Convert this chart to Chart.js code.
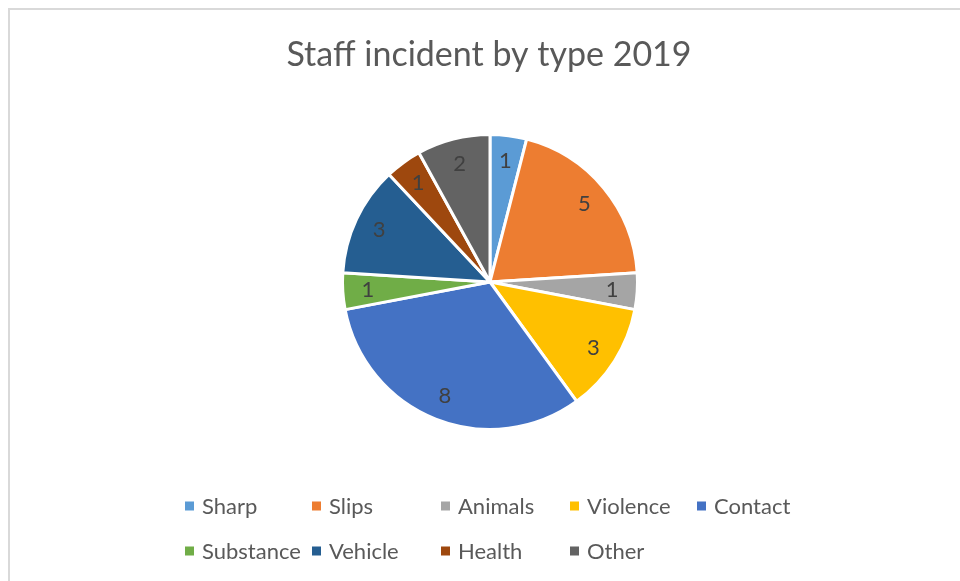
<!DOCTYPE html>
<html><head><meta charset="utf-8">
<script src="https://cdn.jsdelivr.net/npm/chart.js@4.4.0/dist/chart.umd.min.js"></script>
<style>
html,body{margin:0;padding:0;background:#fff;overflow:hidden}
#wrap{position:relative;width:960px;height:581px;overflow:hidden}
#frame{position:absolute;left:8px;top:8px;width:1000px;height:700px;border-left:2px solid #d9d9d9;border-top:2px solid #d9d9d9;}
canvas{position:absolute;left:0;top:0}
</style></head>
<body><div id="wrap"><div id="frame"></div><canvas id="c" width="960" height="581"></canvas></div>
<script>
const chartTitle = 'Staff incident by type 2019';
const categories = ['Sharp','Slips','Animals','Violence','Contact','Substance','Vehicle','Health','Other'];
const values = [1,5,1,3,8,1,3,1,2];
const colors = ['#5B9BD5','#ED7D31','#A5A5A5','#FFC000','#4472C4','#70AD47','#255E91','#9E480E','#636363'];

const FONT = 'Lato, "Open Sans", sans-serif';

const overlay = {
  id: 'overlay',
  afterDraw(chart) {
    const ctx = chart.ctx;
    ctx.save();
    // title
    ctx.fillStyle = '#595959';
    ctx.font = '34px ' + FONT;
    ctx.textAlign = 'center';
    ctx.textBaseline = 'middle';
    ctx.fillText(chartTitle, 489, 55);
    // data labels
    const meta = chart.getDatasetMeta(0);
    ctx.font = '22px ' + FONT;
    ctx.fillStyle = '#404040';
    meta.data.forEach((arc, i) => {
      const p = arc.getProps(['x','y','startAngle','endAngle','outerRadius'], true);
      const a = (p.startAngle + p.endAngle) / 2;
      const r = p.outerRadius * 0.83;
      ctx.fillText(String(values[i]), p.x + Math.cos(a) * r, p.y + Math.sin(a) * r);
    });
    // legend (grid layout)
    const colX = [185, 312, 441, 570, 697];
    const rowY = [506, 551];
    ctx.font = '22px ' + FONT;
    ctx.textAlign = 'left';
    categories.forEach((c, i) => {
      const col = i % 5, row = Math.floor(i / 5);
      const x = colX[col], y = rowY[row];
      ctx.fillStyle = colors[i];
      ctx.fillRect(x, y - 4.5, 9, 9);
      ctx.fillStyle = '#595959';
      ctx.fillText(c, x + 17, y + 1);
    });
    ctx.restore();
  }
};

new Chart(document.getElementById('c'), {
  type: 'pie',
  data: {
    labels: categories,
    datasets: [{
      data: values,
      backgroundColor: colors,
      borderColor: '#ffffff',
      borderWidth: 3
    }]
  },
  options: {
    responsive: false,
    animation: false,
    layout: { padding: { left: 341, right: 321, top: 133, bottom: 150 } },
    plugins: { legend: { display: false }, title: { display: false }, tooltip: { enabled: false } }
  },
  plugins: [overlay]
});
</script>
</body></html>
